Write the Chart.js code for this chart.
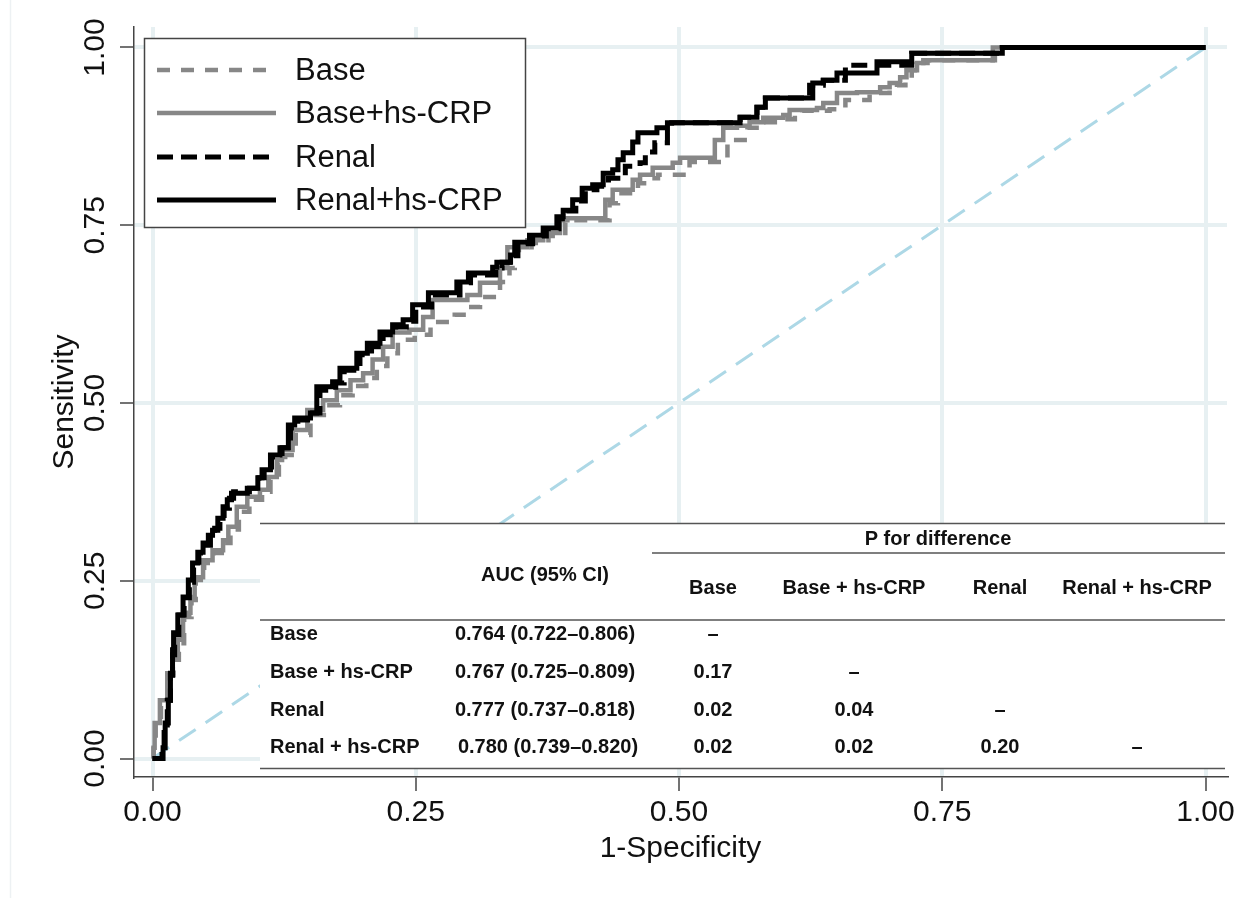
<!DOCTYPE html>
<html lang="en">
<head>
<meta charset="UTF-8" />
<title>ROC curves</title>
<script src="https://cdn.jsdelivr.net/npm/chart.js"></script>
<style>
  html, body { margin: 0; padding: 0; background: #fff; }
  #wrap { width: 1241px; height: 898px; position: relative; }
</style>
</head>
<body>
<div id="wrap"><canvas id="rocChart" width="1241" height="898"></canvas></div>
<script>
const FONT = '"Liberation Sans", Arial, Helvetica, sans-serif';

// axis ticks
const xTicks = [0, 0.25, 0.5, 0.75, 1];
const yTicks = [0, 0.25, 0.5, 0.75, 1];

// legend / series names
const seriesNames = ['Base', 'Base+hs-CRP', 'Renal', 'Renal+hs-CRP'];

// ROC points (1-specificity, sensitivity)
const baseX = [0, 0.001, 0.003, 0.008, 0.015, 0.020, 0.025, 0.030, 0.037, 0.041, 0.049, 0.058, 0.068, 0.074, 0.082, 0.092, 0.104, 0.112, 0.120, 0.126, 0.136, 0.150, 0.165, 0.178, 0.190, 0.203, 0.213, 0.223, 0.233, 0.249, 0.264, 0.287, 0.299, 0.311, 0.330, 0.339, 0.344, 0.360, 0.376, 0.392, 0.398, 0.434, 0.442, 0.461, 0.469, 0.480, 0.510, 0.546, 0.565, 0.577, 0.591, 0.610, 0.617, 0.643, 0.658, 0.681, 0.700, 0.707, 0.715, 0.721, 0.729, 0.736, 0.800, 1.000];
const baseY = [0, 0.019, 0.051, 0.082, 0.117, 0.139, 0.162, 0.199, 0.223, 0.251, 0.275, 0.289, 0.303, 0.322, 0.347, 0.364, 0.375, 0.392, 0.413, 0.427, 0.455, 0.483, 0.497, 0.511, 0.524, 0.535, 0.552, 0.570, 0.589, 0.596, 0.614, 0.624, 0.635, 0.649, 0.670, 0.690, 0.715, 0.725, 0.735, 0.754, 0.757, 0.781, 0.795, 0.809, 0.816, 0.821, 0.839, 0.870, 0.887, 0.895, 0.899, 0.904, 0.911, 0.913, 0.926, 0.936, 0.944, 0.947, 0.957, 0.968, 0.978, 0.982, 1.000, 1.000];

const baseCrpX = [0, 0.001, 0.002, 0.007, 0.014, 0.019, 0.024, 0.029, 0.036, 0.040, 0.048, 0.057, 0.067, 0.072, 0.080, 0.090, 0.102, 0.110, 0.118, 0.123, 0.133, 0.147, 0.162, 0.175, 0.188, 0.200, 0.209, 0.219, 0.228, 0.244, 0.257, 0.266, 0.299, 0.311, 0.330, 0.337, 0.356, 0.371, 0.387, 0.394, 0.430, 0.437, 0.456, 0.463, 0.475, 0.494, 0.501, 0.534, 0.542, 0.555, 0.567, 0.580, 0.599, 0.605, 0.631, 0.637, 0.650, 0.669, 0.691, 0.700, 0.710, 0.716, 0.726, 0.732, 0.798, 1.000];
const baseCrpY = [0, 0.015, 0.050, 0.082, 0.120, 0.143, 0.167, 0.205, 0.227, 0.255, 0.279, 0.293, 0.307, 0.326, 0.354, 0.368, 0.378, 0.396, 0.420, 0.434, 0.462, 0.490, 0.504, 0.518, 0.532, 0.542, 0.561, 0.579, 0.599, 0.603, 0.621, 0.645, 0.652, 0.669, 0.690, 0.719, 0.729, 0.739, 0.757, 0.760, 0.786, 0.800, 0.814, 0.821, 0.831, 0.838, 0.845, 0.870, 0.887, 0.890, 0.895, 0.901, 0.905, 0.912, 0.915, 0.922, 0.936, 0.937, 0.944, 0.950, 0.958, 0.968, 0.978, 0.982, 1.000, 1.000];

const renalX = [0, 0.009, 0.011, 0.014, 0.017, 0.019, 0.021, 0.025, 0.030, 0.035, 0.039, 0.044, 0.049, 0.055, 0.059, 0.064, 0.068, 0.073, 0.077, 0.092, 0.101, 0.106, 0.113, 0.123, 0.131, 0.138, 0.152, 0.159, 0.174, 0.182, 0.197, 0.208, 0.219, 0.231, 0.241, 0.250, 0.265, 0.292, 0.302, 0.326, 0.332, 0.343, 0.347, 0.361, 0.374, 0.386, 0.393, 0.402, 0.411, 0.422, 0.433, 0.449, 0.463, 0.468, 0.477, 0.489, 0.493, 0.558, 0.574, 0.582, 0.624, 0.637, 0.658, 0.721, 0.807, 1.000];
const renalY = [0, 0.012, 0.047, 0.082, 0.117, 0.146, 0.174, 0.202, 0.226, 0.248, 0.271, 0.289, 0.300, 0.313, 0.324, 0.338, 0.352, 0.366, 0.375, 0.380, 0.395, 0.406, 0.424, 0.437, 0.465, 0.476, 0.486, 0.518, 0.528, 0.546, 0.568, 0.579, 0.596, 0.607, 0.615, 0.635, 0.652, 0.669, 0.680, 0.690, 0.698, 0.707, 0.724, 0.735, 0.745, 0.759, 0.770, 0.784, 0.800, 0.805, 0.816, 0.833, 0.838, 0.853, 0.866, 0.884, 0.894, 0.902, 0.916, 0.929, 0.947, 0.954, 0.975, 0.992, 1.000, 1.000];

const renalCrpX = [0, 0.010, 0.012, 0.015, 0.017, 0.019, 0.020, 0.024, 0.029, 0.034, 0.038, 0.043, 0.048, 0.053, 0.057, 0.062, 0.067, 0.071, 0.075, 0.090, 0.100, 0.104, 0.112, 0.121, 0.129, 0.135, 0.150, 0.156, 0.171, 0.178, 0.194, 0.204, 0.216, 0.228, 0.238, 0.247, 0.262, 0.289, 0.300, 0.323, 0.327, 0.340, 0.344, 0.358, 0.371, 0.384, 0.390, 0.399, 0.408, 0.418, 0.428, 0.437, 0.442, 0.447, 0.456, 0.461, 0.479, 0.489, 0.558, 0.574, 0.582, 0.627, 0.637, 0.650, 0.688, 0.721, 0.807, 1.000];
const renalCrpY = [0, 0.015, 0.050, 0.082, 0.120, 0.153, 0.177, 0.202, 0.227, 0.251, 0.275, 0.290, 0.303, 0.314, 0.321, 0.338, 0.354, 0.364, 0.373, 0.380, 0.395, 0.406, 0.427, 0.437, 0.469, 0.479, 0.486, 0.523, 0.530, 0.549, 0.570, 0.584, 0.600, 0.610, 0.617, 0.638, 0.655, 0.670, 0.683, 0.691, 0.698, 0.708, 0.726, 0.736, 0.746, 0.762, 0.771, 0.786, 0.802, 0.807, 0.823, 0.828, 0.842, 0.852, 0.867, 0.880, 0.887, 0.894, 0.902, 0.916, 0.929, 0.950, 0.954, 0.964, 0.980, 0.992, 1.000, 1.000];

// reference diagonal
const refX = [0, 1];
const refY = [0, 1];

// inset table
const tableRows = ['Base', 'Base + hs-CRP', 'Renal', 'Renal + hs-CRP'];
const aucValues = ['0.764 (0.722\u20130.806)', '0.767 (0.725\u20130.809)', '0.777 (0.737\u20130.818)', '0.780 (0.739\u20130.820)'];
const pHeaders = ['Base', 'Base + hs-CRP', 'Renal', 'Renal + hs-CRP'];
const pValues = [
  ['\u2013', '', '', ''],
  ['0.17', '\u2013', '', ''],
  ['0.02', '0.04', '\u2013', ''],
  ['0.02', '0.02', '0.20', '\u2013']
];

function toPoints(xs, ys) {
  const n = Math.min(xs.length, ys.length);
  const pts = [];
  for (let i = 0; i < n; i++) pts.push({ x: xs[i], y: ys[i] });
  return pts;
}

// draws the table over the lower right of the plot
const tablePlugin = {
  id: 'aucTable',
  afterDatasetsDraw(chart) {
    const ctx = chart.ctx;
    ctx.save();
    ctx.fillStyle = '#ffffff';
    ctx.fillRect(260, 523, 967, 246);

    ctx.strokeStyle = '#555';
    ctx.lineWidth = 1.5;
    const hline = (x1, x2, y) => { ctx.beginPath(); ctx.moveTo(x1, y); ctx.lineTo(x2, y); ctx.stroke(); };
    hline(260, 1225, 523.5);
    hline(652, 1225, 553);
    hline(260, 1225, 620);
    hline(260, 1225, 768.5);

    ctx.fillStyle = '#111';
    ctx.font = 'bold 20px ' + FONT;
    ctx.textBaseline = 'middle';
    ctx.textAlign = 'center';
    ctx.fillText('P for difference', 938, 539);
    ctx.fillText('AUC (95% CI)', 545, 575);

    const colX = [713, 854, 1000, 1137];
    pHeaders.forEach((h, i) => ctx.fillText(h, colX[i], 588));

    const rowY = [634, 672, 710, 747];
    tableRows.forEach((r, i) => {
      ctx.textAlign = 'left';
      ctx.fillText(r, 270, rowY[i]);
      ctx.textAlign = 'center';
      ctx.fillText(aucValues[i], i === 3 ? 548 : 545, rowY[i]);
      pValues[i].forEach((p, j) => { if (p) ctx.fillText(p, colX[j], rowY[i]); });
    });
    ctx.restore();
  }
};

// legend box in the upper left of the plot
const legendPlugin = {
  id: 'boxLegend',
  afterDatasetsDraw(chart) {
    const ctx = chart.ctx;
    ctx.save();
    ctx.fillStyle = '#ffffff';
    ctx.fillRect(144, 38, 382, 190);
    ctx.strokeStyle = '#444';
    ctx.lineWidth = 1.5;
    ctx.strokeRect(144.5, 38.5, 381, 189);

    const rows = [70, 113, 157, 200];
    ctx.font = '31px ' + FONT;
    ctx.textBaseline = 'middle';
    ctx.textAlign = 'left';
    seriesNames.forEach((name, i) => {
      const ds = chart.data.datasets[i];
      ctx.strokeStyle = ds.borderColor;
      ctx.lineWidth = ds.borderWidth;
      ctx.setLineDash(ds.borderDash || []);
      ctx.beginPath();
      ctx.moveTo(157, rows[i]);
      ctx.lineTo(276, rows[i]);
      ctx.stroke();
      ctx.setLineDash([]);
      ctx.fillStyle = '#111';
      ctx.fillText(name, 295, rows[i] + 1);
    });
    ctx.restore();
  }
};

// rotated y tick labels and faint outer frame
const yLabelPlugin = {
  id: 'yLabels',
  afterDraw(chart) {
    const ctx = chart.ctx;
    const ys = chart.scales.y;
    ctx.save();
    ctx.font = '30px ' + FONT;
    ctx.fillStyle = '#111';
    ctx.textAlign = 'center';
    ctx.textBaseline = 'middle';
    yTicks.forEach(v => {
      const py = ys.getPixelForValue(v);
      ctx.save();
      ctx.translate(96, py);
      ctx.rotate(-Math.PI / 2);
      ctx.fillText(v.toFixed(2), 0, 0);
      ctx.restore();
    });
    ctx.strokeStyle = '#edf1f3';
    ctx.lineWidth = 1.5;
    ctx.beginPath();
    ctx.moveTo(10.5, 0);
    ctx.lineTo(10.5, 898);
    ctx.stroke();
    ctx.restore();
  }
};

const gridColor = 'rgb(231,240,242)';

new Chart(document.getElementById('rocChart'), {
  type: 'line',
  data: {
    datasets: [
      {
        label: seriesNames[0], data: toPoints(baseX, baseY),
        borderColor: '#878787', borderWidth: 4.5, borderDash: [13, 11],
        stepped: true, pointRadius: 0, order: 4
      },
      {
        label: seriesNames[1], data: toPoints(baseCrpX, baseCrpY),
        borderColor: '#878787', borderWidth: 4.5,
        stepped: true, pointRadius: 0, order: 3
      },
      {
        label: seriesNames[2], data: toPoints(renalX, renalY),
        borderColor: '#000000', borderWidth: 5, borderDash: [16, 8],
        stepped: true, pointRadius: 0, order: 2
      },
      {
        label: seriesNames[3], data: toPoints(renalCrpX, renalCrpY),
        borderColor: '#000000', borderWidth: 5,
        stepped: true, pointRadius: 0, order: 1
      },
      {
        label: 'Reference', data: toPoints(refX, refY),
        borderColor: '#add8e6', borderWidth: 3, borderDash: [20, 12],
        pointRadius: 0, order: 10
      }
    ]
  },
  options: {
    responsive: false,
    animation: false,
    events: [],
    layout: { padding: { left: 0, top: 27, right: 14, bottom: 0 } },
    plugins: {
      legend: { display: false },
      tooltip: { enabled: false }
    },
    scales: {
      x: {
        type: 'linear',
        min: -0.0176,
        max: 1.0204,
        afterBuildTicks: s => { s.ticks = xTicks.map(v => ({ value: v })); },
        afterFit: s => { s.height = 121; },
        grid: {
          color: gridColor, lineWidth: 4,
          tickColor: '#444', tickWidth: 1.5, tickLength: 14
        },
        border: { display: true, color: '#444', width: 1.5 },
        ticks: {
          autoSkip: false, maxRotation: 0, padding: 4,
          color: '#111', font: { family: FONT, size: 30 },
          callback: v => Number(v).toFixed(2)
        },
        title: {
          display: true, text: '1-Specificity', color: '#111',
          font: { family: FONT, size: 30 }, padding: { top: 0, bottom: 31 }
        }
      },
      y: {
        type: 'linear',
        min: -0.026,
        max: 1.0288,
        afterBuildTicks: s => { s.ticks = yTicks.map(v => ({ value: v })); },
        afterFit: s => { s.width = 134; },
        grid: {
          color: gridColor, lineWidth: 4,
          tickColor: '#444', tickWidth: 1.5, tickLength: 14
        },
        border: { display: true, color: '#444', width: 1.5 },
        ticks: { display: false },
        title: {
          display: true, text: 'Sensitivity', color: '#111',
          font: { family: FONT, size: 30 }, padding: { top: 47, bottom: 0 }
        }
      }
    }
  },
  plugins: [tablePlugin, legendPlugin, yLabelPlugin]
});
</script>
</body>
</html>
